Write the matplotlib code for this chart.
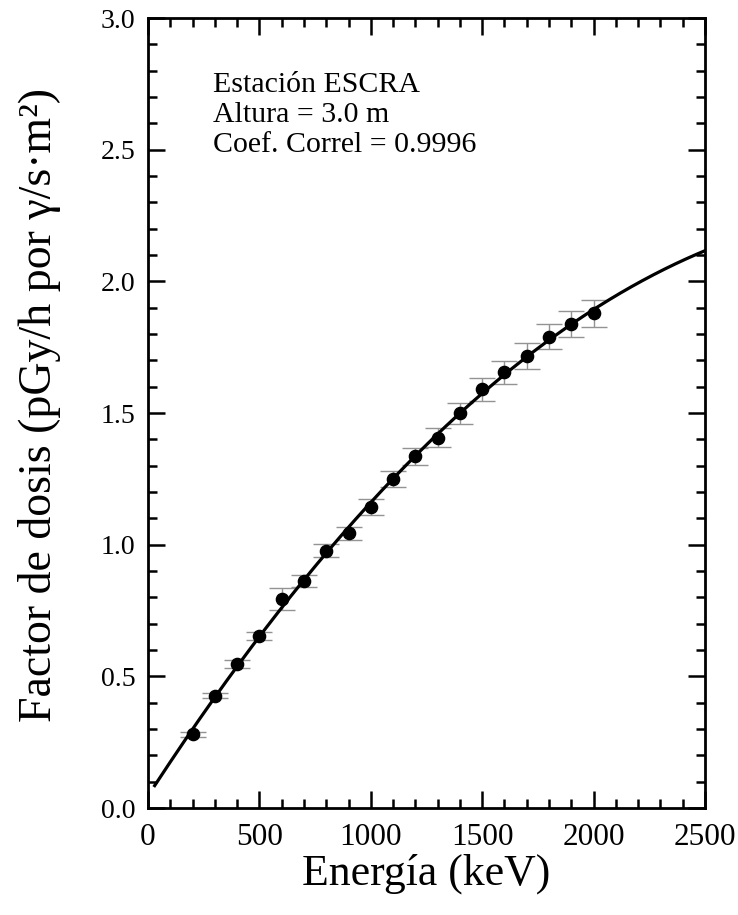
import numpy as np
import matplotlib
matplotlib.use("Agg")
import matplotlib.pyplot as plt
from matplotlib.ticker import MultipleLocator

plt.rcParams["font.family"] = ["Liberation Serif", "DejaVu Serif"]

# Measured dose factors per gamma energy
energy_kev = [200, 300, 400, 500, 600, 700, 800, 900, 1000, 1100,
              1200, 1300, 1400, 1500, 1600, 1700, 1800, 1900, 2000]
dose_factor = [0.280, 0.427, 0.546, 0.653, 0.793, 0.862, 0.977, 1.043, 1.142, 1.248,
               1.336, 1.407, 1.499, 1.590, 1.654, 1.717, 1.790, 1.838, 1.878]
dose_err = [0.009, 0.010, 0.016, 0.016, 0.042, 0.022, 0.025, 0.026, 0.030, 0.030,
            0.032, 0.037, 0.040, 0.044, 0.045, 0.049, 0.048, 0.049, 0.051]

x_ticks = [0, 500, 1000, 1500, 2000, 2500]
y_ticks = [0.0, 0.5, 1.0, 1.5, 2.0, 2.5, 3.0]

info_lines = ["Estación ESCRA", "Altura = 3.0 m", "Coef. Correl = 0.9996"]

fig = plt.figure(figsize=(7.38, 9.15), dpi=100)
ax = fig.add_axes([0.2005, 0.1169, 0.7548, 0.8634])

# Quadratic fit of the measurements, drawn over the full energy range
coef = np.polyfit(energy_kev, dose_factor, 2)
xf = np.linspace(30, 2500, 300)
ax.plot(xf, np.polyval(coef, xf), color="black", lw=2.3, zorder=3)

ax.errorbar(energy_kev, dose_factor, yerr=dose_err, fmt="none",
            ecolor="#939393", elinewidth=1.0, capsize=9.7, capthick=1.0, zorder=2)
ax.plot(energy_kev, dose_factor, "o", color="black", ms=8.8, zorder=4)

ax.set_xlim(0, 2500)
ax.set_ylim(0, 3.0)
ax.set_xticks(x_ticks)
ax.set_yticks(y_ticks)
ax.xaxis.set_minor_locator(MultipleLocator(100))
ax.yaxis.set_minor_locator(MultipleLocator(0.1))
ax.set_xticklabels([str(v) for v in x_ticks], fontsize=22.5,
                   family="Liberation Serif")
ax.set_yticklabels([f"{v:.1f}" for v in y_ticks], fontsize=20,
                   family="Liberation Serif")

ax.tick_params(which="both", direction="in", top=True, right=True, width=1.8)
ax.tick_params(which="major", length=12)
ax.tick_params(which="minor", length=6.2)
ax.tick_params(axis="x", which="major", pad=11)
ax.tick_params(axis="y", which="major", pad=9)
for s in ax.spines.values():
    s.set_linewidth(2.0)

ax.set_xlabel("Energía (keV)", fontsize=31.5, labelpad=1)
ax.set_ylabel("Factor de dosis (pGy/h por γ/s·m²)", fontsize=33)
ax.yaxis.set_label_coords(-0.157, 0.51)

for i, line in enumerate(info_lines):
    ax.text(0.117, 0.906 - i * 0.038, line, transform=ax.transAxes,
            fontsize=21.5, va="baseline", ha="left")

fig.savefig("out.png", dpi=100)
